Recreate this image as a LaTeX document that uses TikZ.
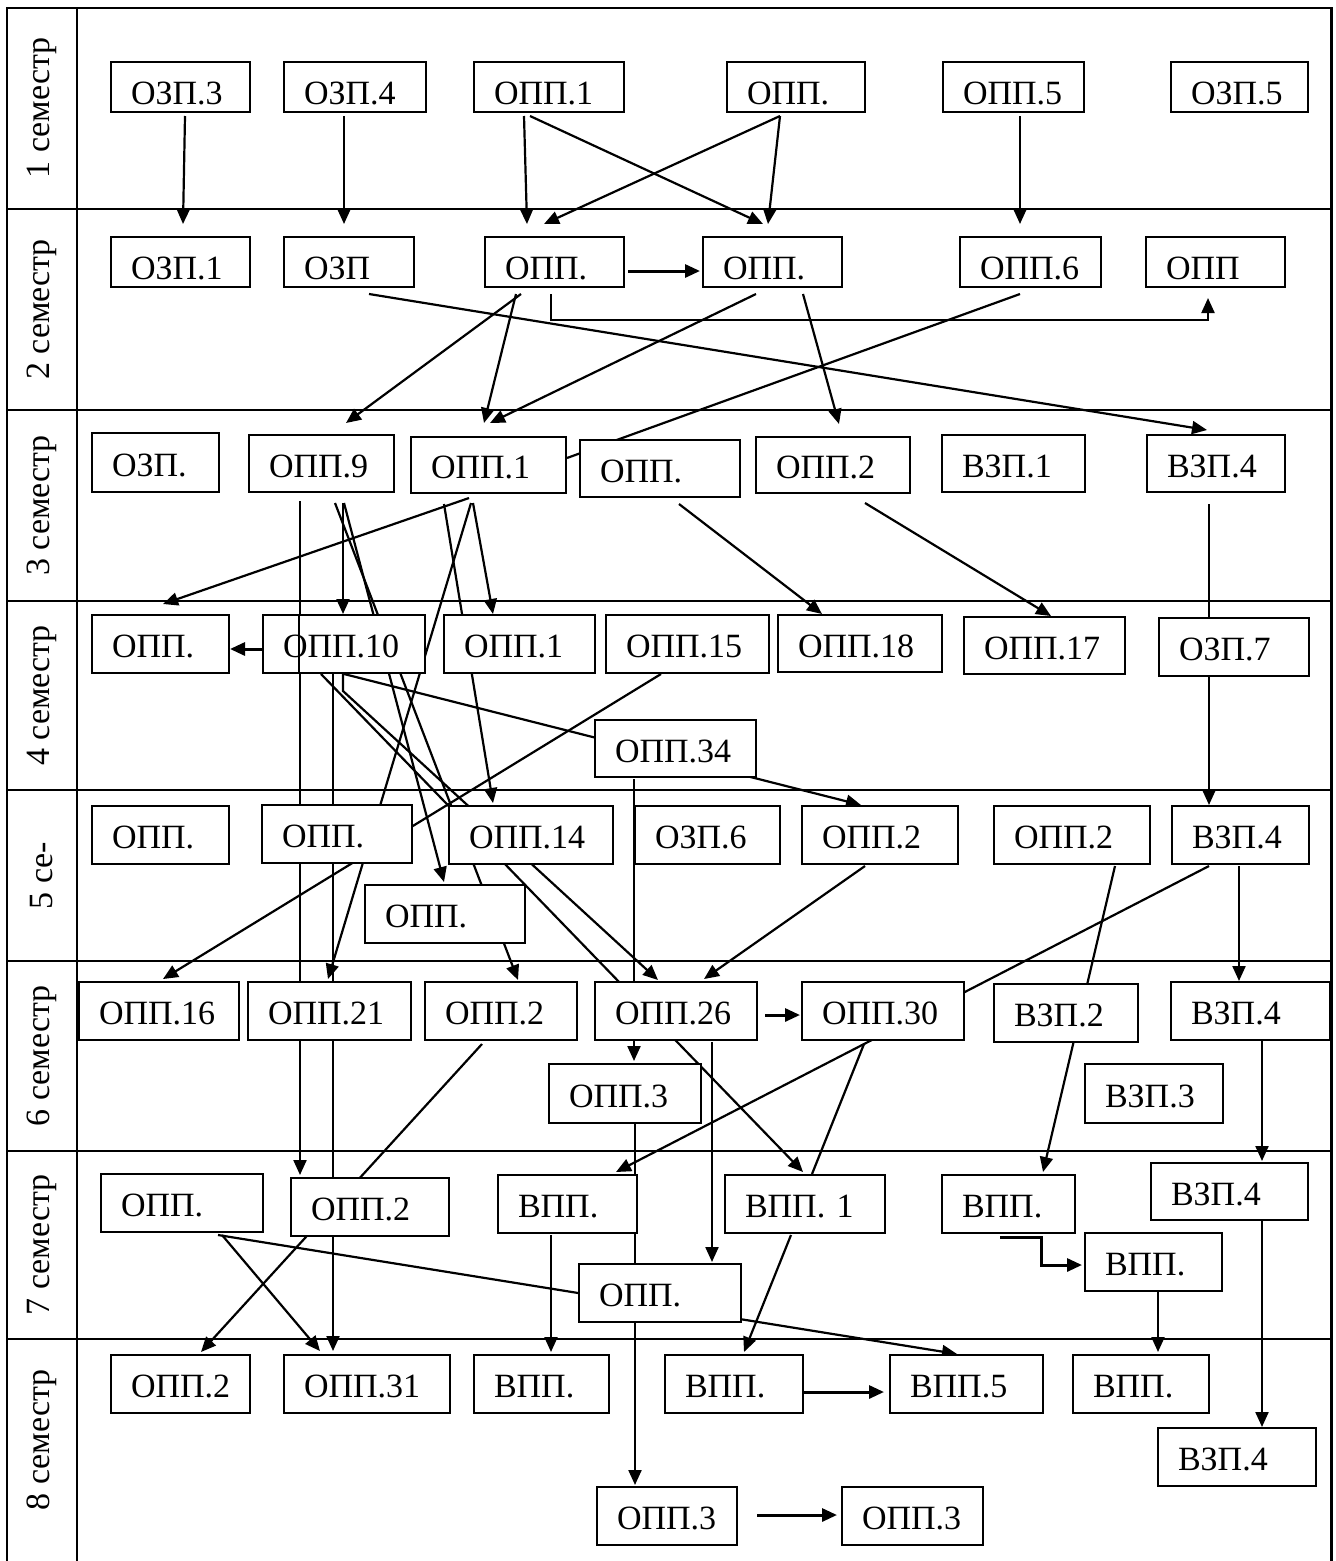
\documentclass[tikz,border=0pt]{standalone}
\usepackage{fontspec}
\setmainfont{Liberation Serif}
\usetikzlibrary{arrows.meta,calc,backgrounds}

\begin{document}
\begin{tikzpicture}[x=1pt,y=-1pt,>={Triangle[length=15pt,width=13pt]},
      box/.style={draw,fill=white,line width=2pt,inner xsep=20pt,inner ysep=2pt,align=left,
        font=\fontsize{34}{40}\selectfont,text height=27pt,text depth=0pt},
      low/.style={text height=34pt},
      sz/.style 2 args={minimum width=#1pt,minimum height=#2pt,text width={#1pt-40pt}},
      lab/.style={rotate=90,font=\fontsize{34}{40}\selectfont},
      conn/.style={line width=2.2pt},
      arr/.style={conn,->},
      thk/.style={line width=3pt,->}]
      \useasboundingbox (0,0) rectangle (1336,1561);

      \node[lab] (l1) at (42,108) {1 семестр};
      \node[lab] (l2) at (42,309.5) {2 семестр};
      \node[lab] (l3) at (42,505.5) {3 семестр};
      \node[lab] (l4) at (42,695.5) {4 семестр};
      \node[lab] (l5) at (42,875.5) {5 се-};
      \node[lab] (l6) at (42,1056) {6 семестр};
      \node[lab] (l7) at (42,1245) {7 семестр};
      \node[lab] (l8) at (42,1440) {8 семестр};

      \node[box,low,sz={139}{50}] (s1a) at (180.5,87) {ОЗП.3};
      \node[box,low,sz={142}{50}] (s1b) at (355,87) {ОЗП.4};
      \node[box,low,sz={150}{50}] (s1c) at (549,87) {ОПП.1};
      \node[box,low,sz={138}{50}] (s1d) at (796,87) {ОПП.};
      \node[box,low,sz={141}{50}] (s1e) at (1013.5,87) {ОПП.5};
      \node[box,low,sz={137}{50}] (s1f) at (1239.5,87) {ОЗП.5};

      \node[box,low,sz={139}{50}] (s2a) at (180.5,262) {ОЗП.1};
      \node[box,low,sz={130}{50}] (s2b) at (349,262) {ОЗП};
      \node[box,low,sz={139}{50}] (s2c) at (554.5,262) {ОПП.};
      \node[box,low,sz={139}{50}] (s2d) at (772.5,262) {ОПП.};
      \node[box,low,sz={141}{50}] (s2e) at (1030.5,262) {ОПП.6};
      \node[box,low,sz={139}{50}] (s2f) at (1215.5,262) {ОПП};

      \node[box,sz={127}{59}] (s3a) at (155.5,462.5) {ОЗП.};
      \node[box,sz={145}{57}] (s3b) at (321.5,463.5) {ОПП.9};
      \node[box,sz={155}{56}] (s3c) at (488.5,465) {ОПП.1};
      \node[box,sz={160}{57}] (s3d) at (660,468.5) {ОПП.};
      \node[box,sz={154}{56}] (s3e) at (833,465) {ОПП.2};
      \node[box,sz={143}{57}] (s3f) at (1013.5,463.5) {ВЗП.1};
      \node[box,sz={138}{57}] (s3g) at (1216,463.5) {ВЗП.4};

      \node[box,sz={137}{58}] (s4a) at (160.5,644) {ОПП.};
      \node[box,sz={162}{58}] (s4b) at (344,644) {ОПП.10};
      \node[box,sz={151}{58}] (s4c) at (519.5,644) {ОПП.1};
      \node[box,sz={163}{58}] (s4d) at (687.5,644) {ОПП.15};
      \node[box,sz={164}{57}] (s4e) at (860,643.5) {ОПП.18};
      \node[box,sz={161}{57}] (s4f) at (1044.5,645.5) {ОПП.17};
      \node[box,sz={150}{58}] (s4g) at (1234,647) {ОЗП.7};
      \node[box,sz={161}{57}] (s4h) at (675.5,748.5) {ОПП.34};

      \node[box,sz={137}{58}] (s5a) at (160.5,835) {ОПП.};
      \node[box,sz={150}{58}] (s5b) at (337,834) {ОПП.};
      \node[box,sz={164}{58}] (s5c) at (531,835) {ОПП.14};
      \node[box,sz={145}{58}] (s5d) at (707.5,835) {ОЗП.6};
      \node[box,sz={156}{58}] (s5e) at (880,835) {ОПП.2};
      \node[box,sz={156}{58}] (s5f) at (1072,835) {ОПП.2};
      \node[box,sz={137}{58}] (s5g) at (1240.5,835) {ВЗП.4};
      \node[box,sz={160}{58}] (s5h) at (445,914) {ОПП.};

      \node[box,sz={160}{58}] (s6a) at (159,1011) {ОПП.16};
      \node[box,sz={163}{58}] (s6b) at (329.5,1011) {ОПП.21};
      \node[box,sz={152}{58}] (s6c) at (501,1011) {ОПП.2};
      \node[box,sz={162}{58}] (s6d) at (676,1011) {ОПП.26};
      \node[box,sz={162}{58}] (s6e) at (883,1011) {ОПП.30};
      \node[box,sz={144}{58}] (s6f) at (1066,1013) {ВЗП.2};
      \node[box,sz={159}{58}] (s6g) at (1250.5,1011) {ВЗП.4};
      \node[box,sz={152}{59}] (s6h) at (625,1093.5) {ОПП.3};
      \node[box,sz={138}{59}] (s6i) at (1154,1093.5) {ВЗП.3};

      \node[box,sz={162}{58}] (s7a) at (182,1203) {ОПП.};
      \node[box,sz={158}{58}] (s7b) at (370,1207) {ОПП.2};
      \node[box,sz={139}{58}] (s7c) at (567.5,1204) {ВПП.};
      \node[box,sz={160}{58}] (s7d) at (805,1204) {ВПП. 1};
      \node[box,sz={133}{58}] (s7e) at (1008.5,1204) {ВПП.};
      \node[box,sz={157}{57}] (s7f) at (1229.5,1191.5) {ВЗП.4};
      \node[box,sz={137}{58}] (s7g) at (1153.5,1262) {ВПП.};
      \node[box,sz={162}{58}] (s7h) at (660,1293) {ОПП.};

      \node[box,sz={139}{58}] (s8a) at (180.5,1384) {ОПП.2};
      \node[box,sz={166}{58}] (s8b) at (367,1384) {ОПП.31};
      \node[box,sz={135}{58}] (s8c) at (541.5,1384) {ВПП.};
      \node[box,sz={138}{58}] (s8d) at (734,1384) {ВПП.};
      \node[box,sz={153}{58}] (s8e) at (966.5,1384) {ВПП.5};
      \node[box,sz={136}{58}] (s8f) at (1141,1384) {ВПП.};
      \node[box,sz={158}{58}] (s8g) at (1237,1457) {ВЗП.4};
      \node[box,sz={140}{58}] (s8h) at (667,1516) {ОПП.3};
      \node[box,sz={141}{58}] (s8i) at (912.5,1516) {ОПП.3};

      \begin{scope}[on background layer]
      \draw[line width=2.8pt] (7,1561) |- (1331.5,8) -- (1331.5,1561)
        (77,8) -- (77,1561)
        (7,209) -- (1331.5,209) (7,410) -- (1331.5,410)
        (7,601) -- (1331.5,601) (7,790) -- (1331.5,790)
        (7,961) -- (1331.5,961) (7,1151) -- (1331.5,1151)
        (7,1339) -- (1331.5,1339);

      \path[arr]
        ($(s1a.south)+(4.5,3)$) edge ($(s2a.north)+(2.5,-12)$)
        ($(s1b.south)+(-11,3)$) edge ($(s2b.north)+(-5,-12)$)
        ($(s1c.south)+(-25,3)$) edge ($(s2c.north)+(-27.5,-12)$)
        ($(s1c.south)+(-19,3)$) edge ($(s2d.north)+(-9.5,-12)$)
        ($(s1d.south)+(-16,3)$) edge ($(s2d.north)+(-4.5,-12)$)
        ($(s1d.south)+(-16,3)$) edge ($(s2c.north)+(-10.5,-12)$)
        ($(s1e.south)+(6.5,3)$) edge ($(s2e.north)+(-10.5,-12)$)
        ($(s2b.south)+(20,6)$) edge ($(s3g.north)+(-9,-4)$)
        ($(s2c.south)+(-33.5,6)$) edge ($(s3b.north)+(24.5,-11)$)
        ($(s2c.south)+(-38.5,6)$) edge ($(s3c.north)+(-4.5,-13)$)
        ($(s2d.south)+(-16.5,6)$) edge ($(s3c.north)+(1.5,-13)$)
        ($(s2d.south)+(30.5,6)$) edge ($(s3e.north)+(6,-12)$)
        ($(s3c.south)+(-19.5,4)$) edge ($(s4a.north)+(2.5,-10)$)
        ($(s3b.south)+(-21.5,8)$) edge ($(s7b.north)+(-70,-2)$)
        ($(s3b.south)+(21.5,10)$) edge ($(s4b.north)+(-1,0)$)
        ($(s3b.south)+(22.5,10)$) edge ($(s5h.north)+(-1,-2)$)
        ($(s3b.south)+(13.5,10)$) edge ($(s6c.north)+(17,-1)$)
        ($(s3c.south)+(-44.5,10)$) edge ($(s5c.north)+(-38,-2)$)
        ($(s3c.south)+(-17.5,9)$) edge ($(s6b.north)+(-1.5,-2)$)
        ($(s3c.south)+(-15.5,9)$) edge ($(s4c.north)+(-26.5,0)$)
        ($(s3d.south)+(19,6)$) edge ($(s4e.north)+(-38,0)$)
        ($(s3e.south)+(32,9)$) edge ($(s4f.north)+(6.5,0)$)
        ($(s3g.south)+(-7,11)$) edge ($(s5g.north)+(-31.5,0)$)
        ($(s4b.south)+(-11,0)$) edge ($(s8b.north)+(-34,-3)$)
        ($(s4b.south)+(-23,0)$) edge ($(s7d.north)+(-2,-2)$)
        ($(s4b.south)+(0,0)$) edge ($(s5e.north)+(-19,0)$)
        ($(s4d.south)+(-26.5,0)$) edge ($(s6a.north)+(4,-2)$)
        ($(s4h.south)+(-41.5,1)$) edge ($(s6h.north)+(9,-2)$)
        ($(s5e.south)+(-15,1)$) edge ($(s6d.north)+(28,-2)$)
        ($(s5f.south)+(43,1)$) edge ($(s7e.north)+(34.5,-2)$)
        ($(s5g.south)+(-31.5,1)$) edge ($(s7c.north)+(48.5,-2)$)
        ($(s5g.south)+(-1.5,1)$) edge ($(s6g.north)+(-11.5,0)$)
        ($(s6d.south)+(36,1)$) edge ($(s7h.north)+(52,-1)$)
        ($(s6c.south)+(-19,3)$) edge ($(s8a.north)+(20.5,-2)$)
        ($(s6g.south)+(11.5,0)$) edge ($(s7f.north)+(32.5,-1)$)
        ($(s6h.south)+(10,0)$) edge ($(s8h.north)+(-32,-1)$)
        ($(s7a.south)+(36,2)$) edge ($(s8e.north)+(-9.5,0)$)
        ($(s7a.south)+(40,2)$) edge ($(s8b.north)+(-47,-3)$)
        ($(s7c.south)+(-16.5,1)$) edge ($(s8c.north)+(9.5,-2)$)
        ($(s7d.south)+(-14,1)$) edge ($(s8d.north)+(10,-2)$)
        ($(s7g.south)+(4.5,0)$) edge ($(s8f.north)+(17,-2)$)
        ($(s7f.south)+(32.5,0)$) edge ($(s8g.north)+(25,0)$);

      \draw[arr] ($(s2c.south)+(-3.5,6)$) -- ++(0,26) -| ($(s2f.south)+(-7.5,10)$);
      \draw[arr] ($(s4b.south)+(-1,0)$) -- ++(0,17) -- ($(s6d.north)+(-18,-1)$);
      \draw[conn] ($(s2e.south)+(-10.5,6)$) -- ($(s3c.east)+(0,-7)$);
      \draw[conn] ($(s6e.south)+(-19,3)$) -- ($(s7d.north)+(7,0)$);

      \draw[thk] ($(s2c.east)+(3,9)$) -- ($(s2d.west)+(-2,9)$);
      \draw[thk] ($(s4b.west)+(0,5)$) -- ($(s4a.east)+(0,5)$);
      \draw[thk] ($(s6d.east)+(7,4)$) -- ($(s6e.west)+(-1,4)$);
      \draw[thk] ($(s7e.south)+(-8.5,3)$) -- ++(41,0) |- ($(s7g.west)+(-2,3)$);
      \draw[thk] ($(s8d.east)+(0,8)$) -- ($(s8e.west)+(-5,8)$);
      \draw[thk] ($(s8h.east)+(19,-1)$) -- ($(s8i.west)+(-4,-1)$);
      \end{scope}

      \draw[conn] ($(s4b.north west)+(37,0)$) -- ($(s4b.south west)+(37,0)$);
    \end{tikzpicture}
\end{document}
